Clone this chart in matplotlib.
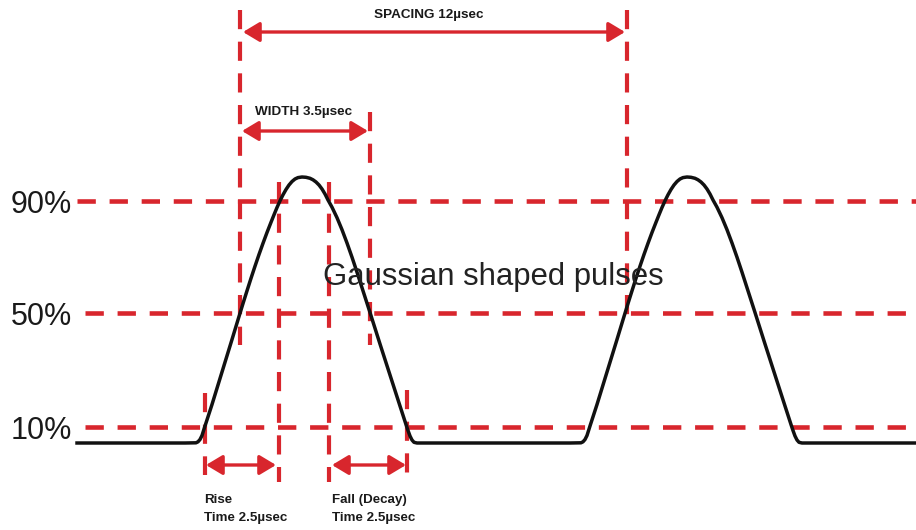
#!/usr/bin/env python3
"""Gaussian shaped pulses: rise / fall / width / spacing diagram."""

import matplotlib
matplotlib.use("Agg")
import matplotlib.pyplot as plt
from matplotlib.patches import FancyArrowPatch

plt.rcParams["font.family"] = ["Liberation Sans", "DejaVu Sans"]

RED = "#d8262d"
INK = "#111111"

# coordinates are in picture pixels (x to the right, y downwards)
level_names = ["90%", "50%", "10%"]
level_y = [201, 313, 427]
level_x0 = [77, 85, 85]

baseline_y = 443
baseline_x = [77, 916]

# one pulse, offsets from its peak (x) and height (y)
pulse_dx = [-117, -106, -104, -102, -100, -97, -90, -80, -70, -63,
            -59, -55, -51, -47, -43, -39, -35, -31, -28, -25, -22, -19,
            -16, -13, -10, -7, -4, 0, 4, 8, 11, 14, 17, 20, 23, 26, 30,
            35, 40, 45, 50, 55, 60, 68, 78, 88, 98, 104, 106, 108, 110,
            112, 115, 122]
pulse_y = [443, 442.8, 441.8, 439.5, 435.5, 426, 404.5, 372, 339.5, 316.5,
           303.5, 290.8, 278.3, 266.2, 254.5, 243.3, 232.5, 222.3, 214.8,
           207.5, 200.8, 194.8, 189.5, 185, 181.5, 179, 177.6, 177, 177.3,
           178.3, 179.8, 182, 185, 189, 194, 200, 207.2, 217.7, 229.7, 243,
           257.2, 272.2, 287.7, 312.5, 344, 375, 406, 424.5, 430.5, 436,
           440, 442.3, 443, 443]
peak_x = [302, 687]

# dashed vertical markers: x, top, bottom
v_x = [240, 627, 370, 279, 329, 205, 407]
v_top = [10, 10, 112, 182, 182, 393, 390]
v_bottom = [345, 323, 345, 482, 482, 475, 475]

# double arrows: x start, x end, y
arrow_x0 = [243, 242, 206, 332]
arrow_x1 = [625, 368, 276, 406]
arrow_y = [32, 131, 465, 465]

dim_labels = ["SPACING 12\u00b5sec", "WIDTH 3.5\u00b5sec"]
dim_label_x = [429, 304]
dim_label_y = [15, 112]

time_labels = ["Rise\nTime 2.5\u00b5sec", "Fall (Decay)\nTime 2.5\u00b5sec"]
time_label_x = [204, 332]
time_label_y = [509, 509]


def main():
    fig = plt.figure(figsize=(9.16, 5.30), dpi=100)
    ax = fig.add_axes([0, 0, 1, 1])
    ax.set_xlim(0, 916)
    ax.set_ylim(530, 0)
    ax.axis("off")

    # horizontal level lines
    for y, x0 in zip(level_y, level_x0):
        ax.plot([x0, 916], [y, y], color=RED, lw=3.3,
                dashes=(4.0, 3.0), solid_capstyle="butt", zorder=2)

    # vertical markers
    for x, y0, y1 in zip(v_x, v_top, v_bottom):
        ax.plot([x, x], [y0, y1], color=RED, lw=3.0,
                dashes=(4.6, 3.0), solid_capstyle="butt", zorder=2)

    # pulse train
    xs = [baseline_x[0]]
    ys = [baseline_y]
    for px in peak_x:
        xs += [px + d for d in pulse_dx]
        ys += pulse_y
    xs.append(baseline_x[1])
    ys.append(baseline_y)
    ax.plot(xs, ys, color=INK, lw=2.5, solid_joinstyle="round", zorder=3)

    # arrows
    for x0, x1, y in zip(arrow_x0, arrow_x1, arrow_y):
        arr = FancyArrowPatch((x0, y), (x1, y),
                              arrowstyle="<|-|>,head_length=0.5,head_width=0.3",
                              mutation_scale=20, color=RED, lw=2.4,
                              shrinkA=0, shrinkB=0, zorder=4)
        ax.add_patch(arr)

    # texts
    for name, y in zip(level_names, level_y):
        ax.text(11, y + 4, name, fontsize=22, color="#1a1a1a",
                ha="left", va="center")

    for t, x, y in zip(dim_labels, dim_label_x, dim_label_y):
        ax.text(x, y, t, fontsize=9.7, fontweight="bold", color="#1a1a1a",
                ha="center", va="center")

    for t, x, y in zip(time_labels, time_label_x, time_label_y):
        ax.text(x, y, t, fontsize=9.6, fontweight="bold", color="#1a1a1a",
                ha="left", va="center", linespacing=1.6)

    ax.text(323, 277, "Gaussian shaped pulses", fontsize=22.4, color="#222222",
            ha="left", va="center", zorder=5)

    fig.savefig("out.png", dpi=100)
    plt.close(fig)


if __name__ == "__main__":
    main()
